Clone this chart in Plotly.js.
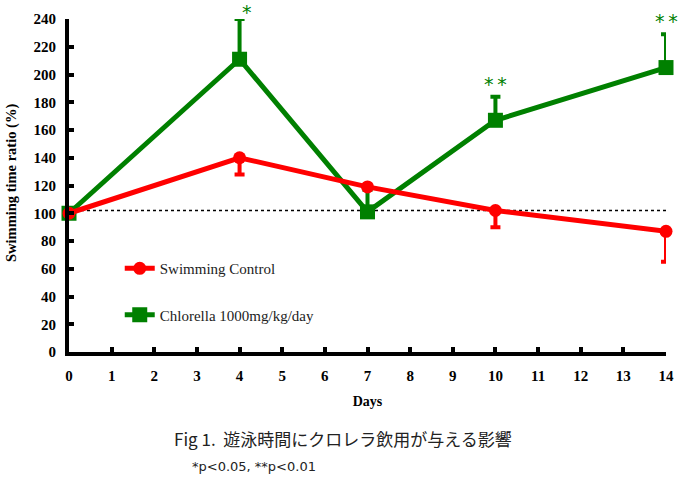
<!DOCTYPE html>
<html>
<head>
<meta charset="utf-8">
<script src="https://cdn.plot.ly/plotly-3.0.1.min.js"></script>
<style>html,body{margin:0;padding:0;background:#fff;}#chart{width:680px;height:483px;}</style>
</head>
<body>
<div id="chart"></div>
<script>
const days = [0, 4, 7, 10, 14];
const controlValues = [100, 140, 119, 102, 87];
const controlErrDown = [0, 12, 0, 12, 22];
const chlorellaValues = [100, 211, 101, 167, 205];
const chlorellaErrUp = [0, 29, 16, 17, 24];
const sigDays = [4, 10, 14];
const sigMarks = ['*', '**', '**'];
const referenceLevel = 102;
const xTicks = [0,1,2,3,4,5,6,7,8,9,10,11,12,13,14];
const yTicks = [0,20,40,60,80,100,120,140,160,180,200,220,240];

const red = '#ff0000', green = '#008000';
const serif = 'Liberation Serif, Times New Roman, serif';

const traces = [
  {
    x: [0, 14], y: [referenceLevel, referenceLevel], mode: 'lines',
    line: {color: '#000', width: 1.5, dash: 'dot'}, showlegend: false, hoverinfo: 'skip'
  },
  {
    name: 'Chlorella 1000mg/kg/day', x: days, y: chlorellaValues, mode: 'lines+markers',
    line: {color: green, width: 5}, marker: {symbol: 'square', size: 15, color: green},
    error_y: {type: 'data', symmetric: false, array: chlorellaErrUp, arrayminus: chlorellaErrUp.map(() => 0),
      color: green, thickness: 4, width: 5},
    cliponaxis: false, legendrank: 2, legendgroup: 'b'
  },
  {
    name: 'Swimming Control', x: days, y: controlValues, mode: 'lines+markers',
    line: {color: red, width: 5}, marker: {symbol: 'circle', size: 13, color: red},
    error_y: {type: 'data', symmetric: false, array: controlErrDown.map(() => 0), arrayminus: controlErrDown,
      color: red, thickness: 4, width: 5},
    cliponaxis: false, legendrank: 1, legendgroup: 'a'
  }
];

const H = 483, T = 19, B = 131, PH = H - T - B, L = 69, PW = 597;
const pyPaper = py => (H - B - py) / PH;
const pxPaper = px => (px - L) / PW;

const annotations = sigDays.map((d, i) => ({
  x: d, y: chlorellaValues[days.indexOf(d)] + chlorellaErrUp[days.indexOf(d)],
  xref: 'x', yref: 'y', text: sigMarks[i].split('').join('\u2009'), showarrow: false, yanchor: 'bottom',
  yshift: sigMarks[i] === '*' ? -6 : 0, xshift: sigMarks[i] === '*' ? 7 : 0,
  font: {family: 'DejaVu Sans', size: 19, color: green}
}));
annotations.push({
  x: pxPaper(343), xref: 'paper', xanchor: 'center', y: pyPaper(438), yref: 'paper', yanchor: 'middle',
  text: 'Fig 1.  遊泳時間にクロレラ飲用が与える影響',
  showarrow: false, font: {family: 'Noto Sans CJK JP', size: 17, color: '#222'}
});
annotations.push({
  x: pxPaper(190), xref: 'paper', xanchor: 'left', y: pyPaper(466), yref: 'paper', yanchor: 'middle',
  text: '*p<0.05, **p<0.01',
  showarrow: false, font: {family: 'DejaVu Sans', size: 13, color: '#222'}
});
annotations.push({
  x: pxPaper(11), xref: 'paper', xanchor: 'center', y: pyPaper(183), yref: 'paper', yanchor: 'middle',
  text: 'Swimming time ratio (%)', textangle: -90,
  showarrow: false, font: {family: serif, size: 14.5, color: '#000', weight: 'bold'}
});

const layout = {
  width: 680, height: 483,
  margin: {l: 69, r: 14, t: 19, b: 131},
  paper_bgcolor: '#fff', plot_bgcolor: '#fff',
  showlegend: true,
  legend: {x: 0.085, y: 0.30, xanchor: 'left', yanchor: 'top', bgcolor: 'rgba(0,0,0,0)',
    font: {family: serif, size: 15, color: '#222'}, tracegroupgap: 24, traceorder: 'grouped', itemwidth: 30},
  xaxis: {
    range: [0, 14], tickvals: xTicks, ticktext: xTicks.map(String),
    showline: true, linecolor: '#000', linewidth: 4, showgrid: false, zeroline: false,
    ticks: 'inside', ticklen: 5, tickwidth: 4, tickcolor: '#000',
    tickfont: {family: serif, size: 15, color: '#000', weight: 'bold'}, ticklabelstandoff: 7,
    title: {text: 'Days', font: {family: serif, size: 14, color: '#000', weight: 'bold'}, standoff: 14}
  },
  yaxis: {
    range: [0, 240], tickvals: yTicks, ticktext: yTicks.map(String),
    showline: true, linecolor: '#000', linewidth: 4, showgrid: false, zeroline: false,
    ticks: 'inside', ticklen: 5, tickwidth: 4, tickcolor: '#000',
    tickfont: {family: serif, size: 15, color: '#000', weight: 'bold'}, ticklabelstandoff: 6
  },
  annotations: annotations
};

Plotly.newPlot('chart', traces, layout, {displayModeBar: false, staticPlot: true});
</script>
</body>
</html>
